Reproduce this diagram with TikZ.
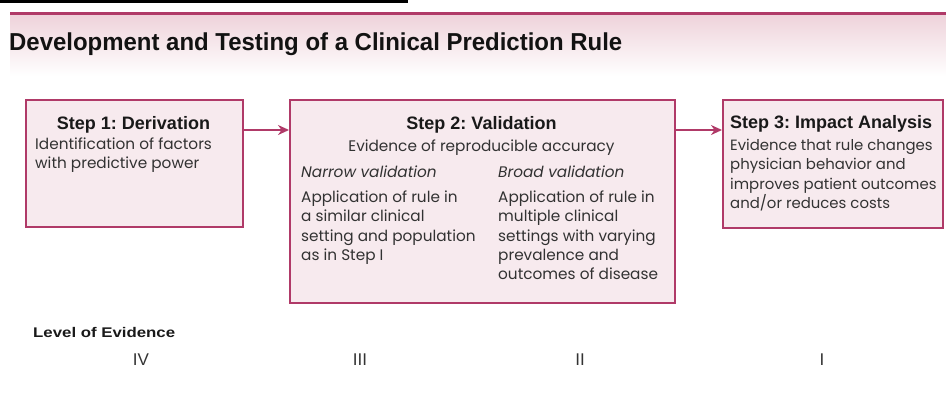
\documentclass[tikz,border=0pt]{standalone}
\usepackage{fontspec}
\setmainfont{Poppins}
\newfontfamily\hfont{Liberation Sans}
\usetikzlibrary{arrows.meta}
\definecolor{rasp}{RGB}{176,58,104}
\definecolor{boxfill}{RGB}{247,234,238}
\definecolor{bandpink}{RGB}{238,210,218}
\definecolor{bodytext}{RGB}{50,50,50}
\tikzset{
  stepbox/.style={draw=rasp, line width=2pt, fill=boxfill, inner sep=0pt, anchor=north west},
  flow/.style={draw=rasp, line width=2pt, -{Stealth[length=11pt,width=10pt]}},
  head/.style={font=\frenchspacing\hfont\bfseries\fontsize{18}{20}\selectfont, text=black!90, inner sep=0pt, anchor=base},
  body/.style={font=\frenchspacing\fontsize{15.3}{19}\selectfont, text=bodytext, inner sep=0pt, anchor=base west},
  bodysm/.style={body, font=\frenchspacing\fontsize{14.9}{19}\selectfont},
  ital/.style={body, font=\frenchspacing\fontsize{15.3}{19}\selectfont\itshape},
  level/.style={font=\hfont\fontsize{17}{17}\selectfont, text=black!80, inner sep=0pt, anchor=base},
}
\begin{document}
\begin{tikzpicture}[x=1pt,y=-1pt]
\useasboundingbox (0,0) rectangle (946,392);
% header
\fill[black] (0,0) rectangle (408,2.5);
\shade[top color=bandpink, bottom color=white] (10,14) rectangle (946,76);
\fill[rasp] (10,11.5) rectangle (946,14.5);
\node[anchor=base west, inner sep=0pt, text=black!93, font=\hfont\bfseries\fontsize{24.5}{24}\selectfont] (title) at (9,50)
  {\resizebox{613pt}{\height}{Development and Testing of a Clinical Prediction Rule}};
% boxes
\node[stepbox, minimum width=217pt, minimum height=127pt] (s1) at (25,99) {};
\node[stepbox, minimum width=385pt, minimum height=203pt] (s2) at (289,99) {};
\node[stepbox, minimum width=220pt, minimum height=128pt] (s3) at (722,99) {};
\coordinate (ay) at (0,130);
\draw[flow] (s1.east |- ay) -- (s2.west |- ay);
\draw[flow] (s2.east |- ay) -- (s3.west |- ay);
% step 1
\node[head] (h1) at (133.5,129) {Step 1: Derivation};
\node[body] (t1a) at (35,149) {Identification of factors};
\node[body] (t1b) at (35,168) {with predictive power};
% step 2
\node[head] (h2) at (481.5,129) {Step 2: Validation};
\node[body, anchor=base] (t2) at (481.5,151) {Evidence of reproducible accuracy};
\node[ital] (n0) at (301,177) {Narrow validation};
\node[body] (n1) at (301,202) {Application of rule in};
\node[body] (n2) at (301,221) {a similar clinical};
\node[body] (n3) at (301,241) {setting and population};
\node[body] (n4) at (301,260) {as in Step I};
\node[ital] (b0) at (498,177) {Broad validation};
\node[body] (b1) at (498,202) {Application of rule in};
\node[body] (b2) at (498,221) {multiple clinical};
\node[body] (b3) at (498,241) {settings with varying};
\node[body] (b4) at (498,260) {prevalence and};
\node[body] (b5) at (498,279.5) {outcomes of disease};
% step 3
\node[head, anchor=base west] (h3) at (730,128) {Step 3: Impact Analysis};
\node[bodysm] (t3a) at (730,150) {Evidence that rule changes};
\node[bodysm] (t3b) at (730,169) {physician behavior and};
\node[bodysm] (t3c) at (730,189) {improves patient outcomes};
\node[bodysm] (t3d) at (730,208) {and/or reduces costs};
% level of evidence
\node[anchor=base west, inner sep=0pt, text=black!90, font=\hfont\bfseries\fontsize{14}{14}\selectfont] (loe) at (33,337)
  {\resizebox{142pt}{\height}{Level of Evidence}};
\node[level] (l4) at (141,365) {IV};
\node[level] (l3) at (360,365) {III};
\node[level] (l2) at (580,365) {II};
\node[level] (l1) at (822,365) {I};
\end{tikzpicture}
\end{document}
